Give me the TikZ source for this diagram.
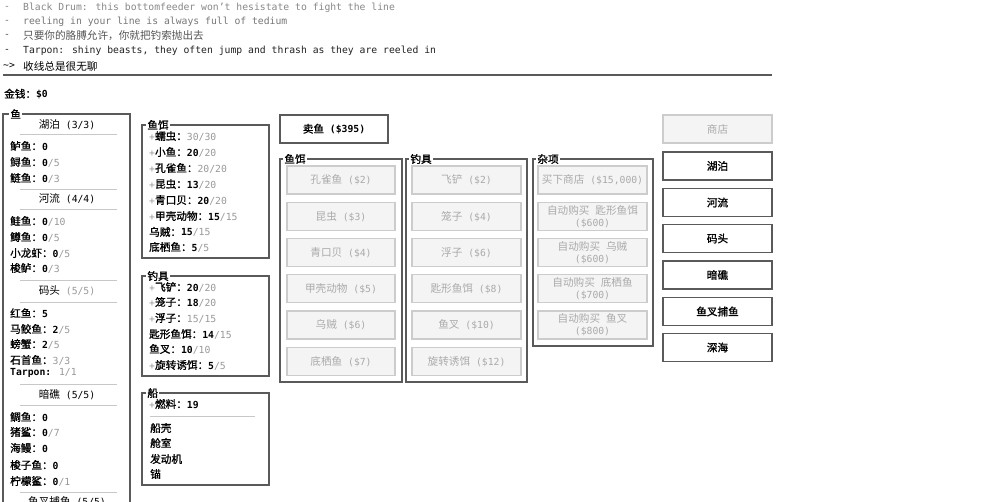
\documentclass[tikz,border=0pt]{standalone}
\usepackage{fontspec}
\setmainfont{DejaVu Sans Mono}
\newfontfamily\cjkfont{Noto Sans CJK SC}[Scale=1.09]
\newfontfamily\cjkbfont{Noto Sans CJK SC}[Scale=1.09,FakeBold=1.2]
\newcommand\zh[1]{{\cjkfont #1}}
\newcommand\zb[1]{{\cjkbfont #1}}
\newcommand\gy[1]{\textcolor{cntgrey}{#1}}
\newcommand\bd[1]{\textbf{#1}}
\definecolor{cntgrey}{HTML}{999999}
\definecolor{frameC}{HTML}{5A5A5A}
\definecolor{offFill}{HTML}{F4F4F4}
\definecolor{offDraw}{HTML}{CCCCCC}
\definecolor{offText}{HTML}{AAAAAA}
\definecolor{sepC}{HTML}{C8C8C8}
\definecolor{logA}{HTML}{888888}
\definecolor{logB}{HTML}{777777}
\definecolor{logC}{HTML}{555555}
\definecolor{logD}{HTML}{222222}
\tikzset{
  every node/.style={font=\fontsize{9.75}{12}\selectfont},
  txt/.style={anchor=west, inner sep=0pt, text=black},
  ctxt/.style={anchor=center, inner sep=0pt, text=black},
  panel/.style={draw=frameC, line width=1.2pt},
  ptitle/.style={anchor=west, fill=white, inner sep=1.2pt, text=black},
  sepline/.style={draw=sepC, line width=1pt},
  btnoff/.style={draw=offDraw, fill=offFill, text=offText, line width=1.4pt,
    minimum height=28pt, inner sep=0pt, align=center},
  btnon/.style={draw=frameC, fill=white, text=black, line width=1.4pt,
    minimum height=28pt, inner sep=0pt, align=center},
}
\begin{document}
\begin{tikzpicture}[x=1pt,y=-1pt]
\clip (0,0) rectangle (1000,501);
\fill[white] (0,0) rectangle (1000,501);

% ---------- log ----------
\node[txt,text=logA] (d1) at (4,8) {-};
\node[txt,text=logA] (l1) at (23,8) {Black Drum: this bottomfeeder won't hesistate to fight the line};
\node[txt,text=logB] (d2) at (4,22) {-};
\node[txt,text=logB] (l2) at (23,22) {reeling in your line is always full of tedium};
\node[txt,text=logC] (d3) at (4,36) {-};
\node[txt,text=logC] (l3) at (23,36) {\zh{只要你的胳膊允许，你就把钓索抛出去}};
\node[txt,text=logD] (d4) at (4,51) {-};
\node[txt,text=logD] (l4) at (23,51) {Tarpon: shiny beasts, they often jump and thrash as they are reeled in};
\node[txt] (d5) at (3,66) {\textasciitilde>};
\node[txt] (l5) at (23,66) {\zh{收线总是很无聊}};
\coordinate (rA) at (3,75);
\coordinate (rB) at (772,75);
\draw[draw=frameC, line width=1.5pt] (rA) -- (rB);
\node[txt] (money) at (4,94) {\zb{金钱：}\bd{\$0}};

% ---------- fish box ----------
\draw[panel] (3,114) rectangle (130,530);
\node[ptitle] (fishT) at (9,114) {\zb{鱼}};
\node[ctxt] (s1) at (67,125) {\zh{湖泊} (3/3)};
\draw[sepline] (20,134) -- (117,134);
\node[txt] (f1) at (10,146) {\zb{鲈鱼：}\bd{0}};
\node[txt] (f2) at (10,162) {\zb{鲟鱼：}\bd{0}\gy{/5}};
\node[txt] (f3) at (10,178) {\zb{鲢鱼：}\bd{0}\gy{/3}};
\draw[sepline] (20,189) -- (117,189);
\node[ctxt] (s2) at (67,199) {\zh{河流} (4/4)};
\draw[sepline] (20,209) -- (117,209);
\node[txt] (f4) at (10,221) {\zb{鲑鱼：}\bd{0}\gy{/10}};
\node[txt] (f5) at (10,237) {\zb{鳟鱼：}\bd{0}\gy{/5}};
\node[txt] (f6) at (10,253) {\zb{小龙虾：}\bd{0}\gy{/5}};
\node[txt] (f7) at (10,268) {\zb{梭鲈：}\bd{0}\gy{/3}};
\draw[sepline] (20,280) -- (117,280);
\node[ctxt] (s3) at (67,291) {\zh{码头} \gy{(5/5)}};
\draw[sepline] (20,302) -- (117,302);
\node[txt] (f8) at (10,313) {\zb{红鱼：}\bd{5}};
\node[txt] (f9) at (10,329) {\zb{马鲛鱼：}\bd{2}\gy{/5}};
\node[txt] (f10) at (10,344) {\zb{螃蟹：}\bd{2}\gy{/5}};
\node[txt] (f11) at (10,360) {\zb{石首鱼：}\gy{3/3}};
\node[txt] (f12) at (10,373) {\bd{Tarpon:} \gy{1/1}};
\draw[sepline] (20,384) -- (117,384);
\node[ctxt] (s4) at (67,395) {\zh{暗礁} (5/5)};
\draw[sepline] (20,405) -- (117,405);
\node[txt] (f13) at (10,417) {\zb{鲷鱼：}\bd{0}};
\node[txt] (f14) at (10,432) {\zb{猪鲨：}\bd{0}\gy{/7}};
\node[txt] (f15) at (10,448) {\zb{海鳗：}\bd{0}};
\node[txt] (f16) at (10,465) {\zb{梭子鱼：}\bd{0}};
\node[txt] (f17) at (10,481) {\zb{柠檬鲨：}\bd{0}\gy{/1}};
\draw[sepline] (20,492) -- (117,492);
\node[ctxt] (s5) at (67,502) {\zh{鱼叉捕鱼} (5/5)};

% ---------- bait inventory ----------
\draw[panel] (142,125) rectangle (269,258);
\node[ptitle] (baitT) at (146,125) {\zb{鱼饵}};
\node[txt] (b1) at (149,136) {\gy{+}\zb{蠕虫：}\gy{30/30}};
\node[txt] (b2) at (149,152) {\gy{+}\zb{小鱼：}\bd{20}\gy{/20}};
\node[txt] (b3) at (149,168) {\gy{+}\zb{孔雀鱼：}\gy{20/20}};
\node[txt] (b4) at (149,184) {\gy{+}\zb{昆虫：}\bd{13}\gy{/20}};
\node[txt] (b5) at (149,200) {\gy{+}\zb{青口贝：}\bd{20}\gy{/20}};
\node[txt] (b6) at (149,216) {\gy{+}\zb{甲壳动物：}\bd{15}\gy{/15}};
\node[txt] (b7) at (149,232) {\zb{乌贼：}\bd{15}\gy{/15}};
\node[txt] (b8) at (149,247) {\zb{底栖鱼：}\bd{5}\gy{/5}};

% ---------- gear inventory ----------
\draw[panel] (142,276) rectangle (269,376);
\node[ptitle] (gearT) at (146,276) {\zb{钓具}};
\node[txt] (g1) at (149,287) {\gy{+}\zb{飞铲：}\bd{20}\gy{/20}};
\node[txt] (g2) at (149,302) {\gy{+}\zb{笼子：}\bd{18}\gy{/20}};
\node[txt] (g3) at (149,318) {\gy{+}\zb{浮子：}\gy{15/15}};
\node[txt] (g4) at (149,334) {\zb{匙形鱼饵：}\bd{14}\gy{/15}};
\node[txt] (g5) at (149,349) {\zb{鱼叉：}\bd{10}\gy{/10}};
\node[txt] (g6) at (149,365) {\gy{+}\zb{旋转诱饵：}\bd{5}\gy{/5}};

% ---------- boat ----------
\draw[panel] (142,393) rectangle (269,485);
\node[ptitle] (boatT) at (146,393) {\zb{船}};
\node[txt] (o1) at (149,404) {\gy{+}\zb{燃料：}\bd{19}};
\draw[sepline] (150,416) -- (255,416);
\node[txt] (o2) at (150,428) {\zb{船壳}};
\node[txt] (o3) at (150,443) {\zb{舱室}};
\node[txt] (o4) at (150,459) {\zb{发动机}};
\node[txt] (o5) at (150,474) {\zb{锚}};

% ---------- sell ----------
\node[btnon, minimum width=108pt] (sell) at (334,129) {\zb{卖鱼} \bd{(\$395)}};

% ---------- bait shop ----------
\draw[panel] (280,159) rectangle (402,382);
\node[ptitle] (bsT) at (283,159) {\zb{鱼饵}};
\node[btnoff, minimum width=108pt] (bs1) at (341,180) {\zh{孔雀鱼} (\$2)};
\node[btnoff, minimum width=108pt] (bs2) at (341,216.5) {\zh{昆虫} (\$3)};
\node[btnoff, minimum width=108pt] (bs3) at (341,252.5) {\zh{青口贝} (\$4)};
\node[btnoff, minimum width=108pt] (bs4) at (341,288.5) {\zh{甲壳动物} (\$5)};
\node[btnoff, minimum width=108pt] (bs5) at (341,325) {\zh{乌贼} (\$6)};
\node[btnoff, minimum width=108pt] (bs6) at (341,361.5) {\zh{底栖鱼} (\$7)};

% ---------- gear shop ----------
\draw[panel] (406,159) rectangle (527,382);
\node[ptitle] (gsT) at (409,159) {\zb{钓具}};
\node[btnoff, minimum width=109pt] (gs1) at (466.5,180) {\zh{飞铲} (\$2)};
\node[btnoff, minimum width=109pt] (gs2) at (466.5,216.5) {\zh{笼子} (\$4)};
\node[btnoff, minimum width=109pt] (gs3) at (466.5,252.5) {\zh{浮子} (\$6)};
\node[btnoff, minimum width=109pt] (gs4) at (466.5,288.5) {\zh{匙形鱼饵} (\$8)};
\node[btnoff, minimum width=109pt] (gs5) at (466.5,325) {\zh{鱼叉} (\$10)};
\node[btnoff, minimum width=109pt] (gs6) at (466.5,361.5) {\zh{旋转诱饵} (\$12)};

% ---------- misc ----------
\draw[panel] (533,159) rectangle (653,346);
\node[ptitle] (msT) at (536,159) {\zb{杂项}};
\node[btnoff, minimum width=109pt] (ms1) at (592.5,180) {\zh{买下商店} (\$15,000)};
\node[btnoff, minimum width=109pt] (ms2) at (592.5,216.5) {\zh{自动购买} \zh{匙形鱼饵}\\(\$600)};
\node[btnoff, minimum width=109pt] (ms3) at (592.5,252.5) {\zh{自动购买} \zh{乌贼}\\(\$600)};
\node[btnoff, minimum width=109pt] (ms4) at (592.5,288.5) {\zh{自动购买} \zh{底栖鱼}\\(\$700)};
\node[btnoff, minimum width=109pt] (ms5) at (592.5,325) {\zh{自动购买} \zh{鱼叉}\\(\$800)};

% ---------- locations ----------
\node[btnoff, minimum width=109pt] (shop) at (717.5,129) {\zh{商店}};
\node[btnon, minimum width=109pt] (loc1) at (717.5,166) {\zb{湖泊}};
\node[btnon, minimum width=109pt] (loc2) at (717.5,202.5) {\zb{河流}};
\node[btnon, minimum width=109pt] (loc3) at (717.5,238.5) {\zb{码头}};
\node[btnon, minimum width=109pt] (loc4) at (717.5,275) {\zb{暗礁}};
\node[btnon, minimum width=109pt] (loc5) at (717.5,311.5) {\zb{鱼叉捕鱼}};
\node[btnon, minimum width=109pt] (loc6) at (717.5,347.5) {\zb{深海}};
\end{tikzpicture}
\end{document}
